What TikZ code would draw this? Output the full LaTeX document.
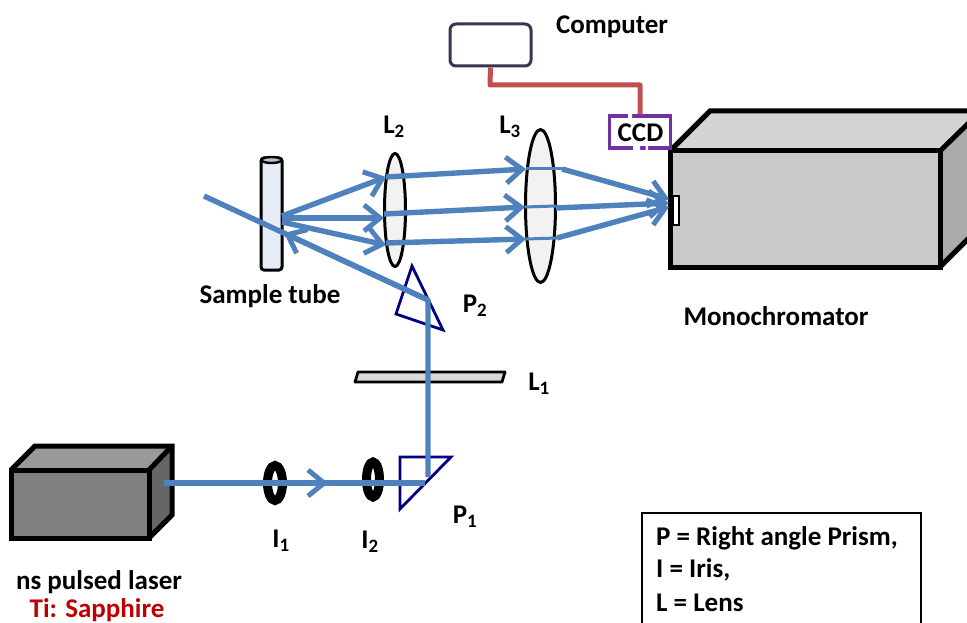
\documentclass[tikz,border=0pt]{standalone}
\usepackage{fontspec}
\setmainfont{Carlito}
\usetikzlibrary{arrows.meta,shapes.geometric}
\definecolor{beam}{HTML}{4F81BD}
\definecolor{prism}{HTML}{000080}
\definecolor{wire}{HTML}{C0504D}
\definecolor{ccdc}{HTML}{7030A0}
\definecolor{compc}{HTML}{3F3151}
\definecolor{tubec}{HTML}{E6EDF6}
\tikzset{
  beamline/.style={draw=beam,line width=5.4pt,line join=round},
  beamarrow/.style={beamline,-{Straight Barb[length=16pt,width=26pt,line width=5pt]}},
  prismshape/.style={draw=prism,line width=2.8pt,line join=miter},
  boxedge/.style={draw=black,line width=5pt,line join=miter},
  lens/.style={ellipse,draw=black,line width=3pt,fill=black!5,inner sep=0pt},
  irisring/.style={ellipse,draw=black,line width=9pt,fill=white,inner sep=0pt},
  lab/.style={font=\fontsize{27}{30}\selectfont\bfseries,text=black,inner sep=0pt},
}
\begin{document}
\begin{tikzpicture}[x=1pt,y=-1pt]
\useasboundingbox (0,0) rectangle (967,623);
\clip (0,0) rectangle (967,623);
% coordinates for the beams
\coordinate (laserout) at (164,483);
\coordinate (p1turn) at (425,483);
\coordinate (p1up) at (428,477);
\coordinate (p2turn) at (428,300);
\coordinate (beamend) at (204,196);
\coordinate (midarrow) at (328,483);
\coordinate (backarrow) at (284,233);
\coordinate (tubeA) at (282,216);
\coordinate (tubeB) at (282,218);
\coordinate (tubeC) at (282,222);
\coordinate (l2a) at (386,177);
\coordinate (l2b) at (384,218);
\coordinate (l2c) at (386,245);
\coordinate (l2a2) at (386,177);
\coordinate (l2b2) at (384,214);
\coordinate (l2c2) at (386,243);
\coordinate (l3a) at (526,169);
\coordinate (l3b) at (525,207);
\coordinate (l3c) at (526,239);
\coordinate (l3ax) at (562,169);
\coordinate (l3bx) at (556,208);
\coordinate (l3cx) at (557,238);
\coordinate (slitA) at (669,199);
\coordinate (slitB) at (669,203);
\coordinate (slitC) at (669,207);
% monochromator
\fill[black!17] (670,151) -- (710,111) -- (981,111) -- (940,151) -- cycle;
\fill[black!33] (940,151) -- (981,111) -- (981,226) -- (940,267) -- cycle;
\node[boxedge,fill=black!21,minimum width=270pt,minimum height=116pt,inner sep=0pt] (mono) at (805,209) {};
\draw[boxedge] (670,151) -- (710,111) -- (981,111) -- (940,151);
\draw[boxedge] (940,267) -- (981,226);
\node[draw=black,line width=2.4pt,fill=white,minimum width=6pt,minimum height=29pt,inner sep=0pt] (slit) at (676,210.5) {};
% laser
\fill[black!40] (11,470) -- (35,446) -- (172,446) -- (149,470) -- cycle;
\fill[black!60] (149,470) -- (172,446) -- (172,515) -- (149,538) -- cycle;
\node[boxedge,fill=black!50,minimum width=138pt,minimum height=68pt,inner sep=0pt] (laser) at (80,504) {};
\draw[boxedge] (11,470) -- (35,446) -- (172,446) -- (172,515) -- (149,538);
\draw[boxedge] (149,470) -- (172,446);
% computer, wire, CCD
\node[draw=compc,line width=3pt,rounded corners=6pt,fill=white,minimum width=81pt,minimum height=42pt,inner sep=0pt] (computer) at (490.5,45) {};
\node[draw=ccdc,line width=3.4pt,fill=white,minimum width=61pt,minimum height=32pt,inner sep=0pt] (ccd) at (640,132) {};
\draw[draw=wire,line width=5pt,line join=round] (computer.south) -- (490,85) -- (640,85) -- (ccd.north);
\fill[white] (628,114) rectangle (632,118) (633,146) rectangle (640,150) (645.5,146) rectangle (648,150);
% tube
\node[draw=black,line width=3pt,rounded corners=3pt,fill=tubec,minimum width=21pt,minimum height=112pt,inner sep=0pt] (tube) at (271.5,214) {};
\node[ellipse,draw=black,line width=2.4pt,fill=black!25,minimum width=20pt,minimum height=6pt,inner sep=0pt] (tubetop) at (271.5,160) {};
% lenses
\node[lens,minimum width=21pt,minimum height=113pt] (L2) at (395,210) {};
\node[lens,minimum width=30pt,minimum height=153pt] (L3) at (540.5,206) {};
\draw[draw=black,line width=2.8pt,line join=round,fill=black!15] (358,372) -- (505,372) -- (502,382) -- (355,382) -- cycle;
% prisms
\draw[prismshape,fill=white] (400,457) -- (451,457) -- (400,509) -- cycle;
\draw[prismshape,fill=white] (412,266) -- (443,330) -- (396,314) -- cycle;
% irises
\node[irisring,minimum width=15pt,minimum height=35pt] (I1) at (275,483) {};
\node[irisring,minimum width=13pt,minimum height=35pt] (I2) at (373,479.5) {};
% beams
\draw[beamline] (laserout) -- (p1turn);
\draw[beamline] (p1up) -- (p2turn) -- (beamend);
\draw[beamarrow] (laserout) -- (midarrow);
\draw[beamarrow] (p2turn) -- (backarrow);
\draw[beamarrow] (tubeA) -- (l2a);
\draw[beamarrow] (tubeB) -- (l2b);
\draw[beamarrow] (tubeC) -- (l2c);
\draw[beamarrow] (l2a2) -- (l3a);
\draw[beamarrow] (l2b2) -- (l3b);
\draw[beamarrow] (l2c2) -- (l3c);
\draw[beamline,line width=3pt] (l3a) -- (l3ax);
\draw[beamline,line width=3pt] (l3b) -- (556,206);
\draw[beamline,line width=3pt] (l3c) -- (l3cx);
\draw[beamarrow] (l3ax) -- (slitA);
\draw[beamarrow] (l3bx) -- (slitB);
\draw[beamarrow] (l3cx) -- (slitC);
% labels
\node[lab] (tComputer) at (612,27) {Computer};
\node[lab] (tCCD) at (640.5,133) {CCD};
\node[lab] (tL2) at (394,127) {L\textsubscript{2}};
\node[lab] (tL3) at (510,127) {L\textsubscript{3}};
\node[lab] (tSample) at (270,296) {Sample tube};
\node[lab] (tP2) at (475,306) {P\textsubscript{2}};
\node[lab] (tL1) at (539,384) {L\textsubscript{1}};
\node[lab] (tP1) at (465,517) {P\textsubscript{1}};
\node[lab] (tI1) at (281,541) {I\textsubscript{1}};
\node[lab] (tI2) at (370,542) {I\textsubscript{2}};
\node[lab] (tMono) at (776,316) {Monochromator};
\node[lab] (tLaser) at (99,582) {ns pulsed laser};
\node[lab,text=red!75!black] (tTi) at (97,610) {Ti: Sapphire};
% legend
\node[draw=black,line width=1.8pt,fill=white,minimum width=279pt,minimum height=127pt,inner sep=0pt] (legend) at (781.5,576.5) {};
\node[lab,anchor=west] (leg1) at (656,538) {P = Right angle Prism,};
\node[lab,anchor=west] (leg2) at (656,570) {I = Iris,};
\node[lab,anchor=west] (leg3) at (656,603) {L = Lens};
\end{tikzpicture}
\end{document}
